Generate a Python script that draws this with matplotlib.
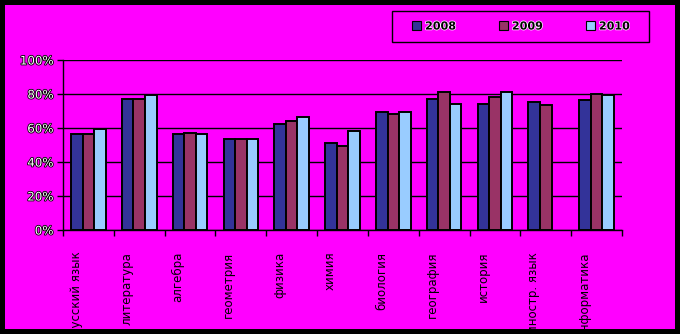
import numpy as np
import matplotlib
matplotlib.use("Agg")
import matplotlib.pyplot as plt
import matplotlib.patheffects as pe
from matplotlib.patches import Rectangle
from matplotlib.transforms import ScaledTranslation

categories = ["русский язык", "литература", "алгебра", "геометрия", "физика",
              "химия", "биология", "география", "история", "иностр. язык",
              "информатика"]
years = ["2008", "2009", "2010"]
v2008 = [56, 77, 56, 53, 62, 51, 69, 77, 74, 75, 76]
v2009 = [56, 77, 57, 53, 64, 49, 68, 81, 78, 73, 80]
v2010 = [59, 79, 56, 53, 66, 58, 69, 74, 81, np.nan, 79]
colors = ["#333399", "#993366", "#99CCFF"]
yticks = [0, 20, 40, 60, 80, 100]
ytick_labels = ["0%", "20%", "40%", "60%", "80%", "100%"]

W, H, DPI = 680, 334, 100
fig = plt.figure(figsize=(W / DPI, H / DPI), dpi=DPI)
fig.patch.set_facecolor("black")
fig.patches.append(Rectangle((5 / W, 5 / H), 670 / W, 324 / H, transform=fig.transFigure,
                             facecolor="#FF00FF", edgecolor="none", zorder=-10))
# legend frame
fig.patches.append(Rectangle((392 / W, 1 - 42 / H), (649 - 392) / W, 31 / H,
                             transform=fig.transFigure, facecolor="none",
                             edgecolor="black", linewidth=1.0, zorder=5))

ax = fig.add_axes([63 / W, 1 - 229.5 / H, (622 - 63) / W, (229.5 - 59.5) / H])
ax.set_facecolor("#FF00FF")
ax.patch.set_alpha(0)

x = np.arange(len(categories))
bw = 0.227
series = [v2008, v2009, v2010]
for i, (vals, c, yr) in enumerate(zip(series, colors, years)):
    ax.bar(x + (i - 1) * bw, vals, width=bw, color=c, edgecolor="black",
           linewidth=1.4, label=yr, zorder=3)

ax.set_xlim(-0.5, len(categories) - 0.5)
ax.set_ylim(0, 100)
ax.set_yticks(yticks)
ax.set_yticklabels(ytick_labels)
ax.yaxis.grid(True, color="black", linewidth=1.0, zorder=0)
ax.set_axisbelow(True)
for s in ["top", "right"]:
    ax.spines[s].set_visible(False)
for s in ["left", "bottom"]:
    ax.spines[s].set_color("black")
    ax.spines[s].set_linewidth(1.0)

ax.set_xticks(np.arange(-0.5, len(categories) + 0.5, 1.0), minor=False)
ax.set_xticklabels([])
ax.set_xticks(x, minor=True)
ax.set_xticklabels(categories, minor=True, rotation=90, va="top", ha="center",
                   fontsize=8.5, color="black", family="DejaVu Sans")
ax.tick_params(axis="x", which="major", length=4, width=1, direction="out", color="black")
ax.tick_params(axis="x", which="minor", length=0, pad=16)
ax.tick_params(axis="y", length=4, width=1, direction="out", color="black", pad=3)
off = ScaledTranslation(-12 / DPI, 0, fig.dpi_scale_trans)
for lab in ax.get_xticklabels(minor=True):
    lab.set_transform(lab.get_transform() + off)
for lab in ax.get_yticklabels():
    lab.set_fontsize(8.5)
    lab.set_color("white")
    lab.set_path_effects([pe.withStroke(linewidth=1.2, foreground="black")])

leg = fig.legend(loc="center", bbox_to_anchor=(521 / W, 1 - 26.5 / H),
                 ncol=3, frameon=False, borderaxespad=0, borderpad=0,
                 handlelength=0.8, handleheight=0.8, handletextpad=0.35,
                 columnspacing=3.9, prop={"weight": "bold", "size": 8})
for h in leg.legend_handles:
    h.set_linewidth(0.8)
for t in leg.get_texts():
    t.set_path_effects([pe.withStroke(linewidth=1.0, foreground="white")])

fig.savefig("out.png", dpi=DPI, facecolor=fig.get_facecolor())
